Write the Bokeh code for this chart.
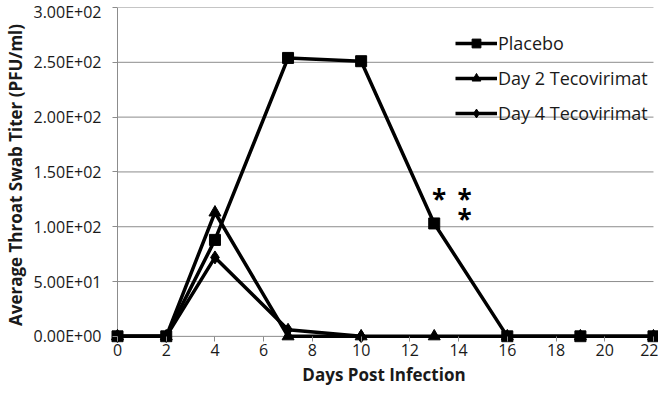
from bokeh.plotting import figure
from bokeh.models import Legend, LegendItem, FixedTicker, Range1d, CustomJSTickFormatter
from bokeh.embed import file_html
from bokeh.resources import INLINE
from bokeh.core.properties import value

placebo_x = [0, 2, 4, 7, 10, 13, 16, 19, 22]
placebo_y = [0, 0, 88, 254, 251, 103, 0, 0, 0]
day2_x = [0, 2, 4, 7, 10, 13, 16, 19, 22]
day2_y = [0, 0, 113, 0, 0, 0, 0, 0, 0]
day4_x = [0, 2, 4, 7, 10]
day4_y = [0, 0, 72, 6, 0]
star_x = [13.2, 14.25, 14.25]
star_y = [125, 125, 107]
x_ticks = list(range(0, 23, 2))
y_ticks = [0, 50, 100, 150, 200, 250, 300]
y_labels = ["0.00E+00", "5.00E+01", "1.00E+02", "1.50E+02", "2.00E+02", "2.50E+02", "3.00E+02"]

FONT = "Open Sans"
GRAY = "#8c8c8c"
p = figure(width=658, height=388, output_backend="svg", toolbar_location=None,
           x_range=Range1d(-0.329, 22.206), y_range=Range1d(-5.6, 300),
           min_border_left=101, min_border_right=0, min_border_top=7, min_border_bottom=0)
p.outline_line_color = None
p.xgrid.grid_line_color = None
p.ygrid.grid_line_color = None

x0, x1 = x_ticks[0], x_ticks[-1]
# horizontal gridlines and axis lines (x axis at y=0, y axis at x=0)
p.segment(x0=[x0] * len(y_ticks), x1=[x1] * len(y_ticks),
          y0=y_ticks, y1=y_ticks, line_color=GRAY, line_width=1)
p.segment(x0=[x0], x1=[x0], y0=[y_ticks[0]], y1=[y_ticks[-1]], line_color=GRAY, line_width=1)

p.xaxis.ticker = FixedTicker(ticks=x_ticks)
p.yaxis.ticker = FixedTicker(ticks=y_ticks)
p.yaxis.formatter = CustomJSTickFormatter(args=dict(labs=y_labels, tv=y_ticks),
                                          code="return labs[tv.indexOf(tick)];")
for ax in (p.xaxis[0], p.yaxis[0]):
    ax.axis_line_color = None
    ax.major_tick_line_color = GRAY
    ax.minor_tick_line_color = None
    ax.minor_tick_out = 0
    ax.minor_tick_in = 0
    ax.major_label_text_font = FONT
    ax.major_label_text_font_size = "16px"
    ax.major_label_text_color = "#1a1a1a"
    ax.axis_label_text_font = FONT
    ax.axis_label_text_font_size = "17px"
    ax.axis_label_text_font_style = "bold"
    ax.axis_label_text_color = "#1a1a1a"
p.xaxis.major_tick_in = 6
p.xaxis.major_tick_out = -1
p.yaxis.major_tick_in = 8
p.yaxis.major_tick_out = -3
p.xaxis.axis_label = "Days Post Infection"
p.yaxis.axis_label = "Average Throat Swab Titer (PFU/ml)"
p.xaxis.major_label_standoff = 1
p.xaxis.axis_label_standoff = 4
p.yaxis.major_label_standoff = 8
p.yaxis.axis_label_standoff = 4

l4 = p.line(day4_x, day4_y, line_color="black", line_width=3.5)
m4 = p.scatter(day4_x, day4_y, marker="diamond", size=13, color="black")
l2 = p.line(day2_x, day2_y, line_color="black", line_width=3.5)
m2 = p.scatter(day2_x, day2_y, marker="triangle", size=12, color="black")
l1 = p.line(placebo_x, placebo_y, line_color="black", line_width=3.5)
m1 = p.scatter(placebo_x, placebo_y, marker="square", size=11, color="black")

p.text(star_x, star_y, text=["*", "*", "*"], text_font=value(FONT), text_font_size="26px",
       text_font_style="bold", text_align="center", text_baseline="middle", text_color="black")

legend = Legend(items=[LegendItem(label="Placebo", renderers=[l1, m1]),
                       LegendItem(label="Day 2 Tecovirimat", renderers=[l2, m2]),
                       LegendItem(label="Day 4 Tecovirimat", renderers=[l4, m4])],
                location=(346, 217))
legend.border_line_color = None
legend.background_fill_alpha = 0
legend.label_text_font = FONT
legend.label_text_font_size = "18px"
legend.label_text_color = "#1a1a1a"
legend.glyph_width = 42
legend.glyph_height = 22
legend.spacing = 11
legend.label_standoff = 1
legend.margin = 0
legend.padding = 0
p.add_layout(legend)

open("out.html", "w").write(file_html(p, INLINE))
